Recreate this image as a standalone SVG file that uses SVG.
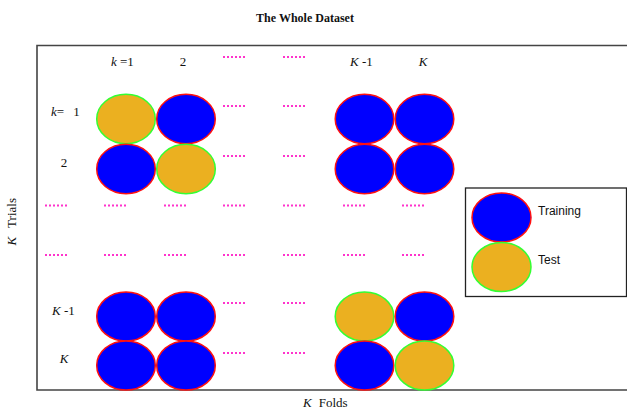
<svg xmlns="http://www.w3.org/2000/svg" width="627" height="410" viewBox="0 0 627 410">
<style>
.tr{fill:#0000ff;stroke:#ff1010;stroke-width:1.5}
.te{fill:#ebb020;stroke:#33ff33;stroke-width:1.5}
.dot{stroke:#ff33cc;stroke-width:2;stroke-dasharray:2,2;fill:none}
.lb{font-family:"Liberation Serif",serif;font-size:13px;fill:#111}
.it{font-style:italic}
.sans{font-family:"Liberation Sans",Arial,sans-serif;font-size:12px;fill:#111}
.frame{stroke:#444;stroke-width:1.6;fill:none}
</style>
<rect width="627" height="410" fill="#fff"/>
<text x="305" y="22" text-anchor="middle" style="font-family:'Liberation Serif',serif;font-size:12px;font-weight:bold" fill="#111">The Whole Dataset</text>
<path class="frame" d="M627 45.5H37V390H627"/>
<g id="col-labels">
<text class="lb" x="111" y="66"><tspan class="it">k</tspan> =1</text>
<text class="lb" x="183" y="66" text-anchor="middle">2</text>
<text class="lb" x="350" y="66"><tspan class="it">K</tspan> -1</text>
<text class="lb" x="423" y="66" text-anchor="middle" font-style="italic">K</text>
</g>
<g id="row-labels">
<text class="lb" x="51" y="116"><tspan class="it">k</tspan>=<tspan dx="9">1</tspan></text>
<text class="lb" x="64" y="167" text-anchor="middle">2</text>
<text class="lb" x="52" y="315"><tspan class="it">K</tspan> -1</text>
<text class="lb" x="64" y="363" text-anchor="middle" font-style="italic">K</text>
</g>
<text class="lb" transform="translate(16,198) rotate(-90)" text-anchor="end"><tspan class="it">K</tspan><tspan dx="9">Trials</tspan></text>
<text class="lb" x="303" y="407"><tspan class="it">K</tspan><tspan dx="7">Folds</tspan></text>
<g id="dots">
<path class="dot" d="M223 57h24M283 57h24M223 106h24M283 106h24M223 156h24M283 156h24M223 303h24M283 303h24M223 353h24M283 353h24"/>
<path class="dot" d="M45 205.5h24M104 205.5h24M164 205.5h24M223 205.5h24M283 205.5h24M343 205.5h24M402 205.5h24"/>
<path class="dot" d="M45 255h24M104 255h24M164 255h24M223 255h24M283 255h24M343 255h24M402 255h24"/>
</g>
<g id="row1">
<ellipse class="te" cx="126" cy="119" rx="29.3" ry="24.7"/>
<ellipse class="tr" cx="186" cy="119" rx="29.3" ry="24.7"/>
<ellipse class="tr" cx="364.5" cy="119" rx="29.3" ry="24.7"/>
<ellipse class="tr" cx="424.5" cy="119" rx="29.3" ry="24.7"/>
</g>
<g id="row2">
<ellipse class="tr" cx="126" cy="169" rx="29.3" ry="24.7"/>
<ellipse class="te" cx="186" cy="169" rx="29.3" ry="24.7"/>
<ellipse class="tr" cx="364.5" cy="169" rx="29.3" ry="24.7"/>
<ellipse class="tr" cx="424.5" cy="169" rx="29.3" ry="24.7"/>
</g>
<g id="rowKm1">
<ellipse class="tr" cx="126" cy="316.5" rx="29.3" ry="24.5"/>
<ellipse class="tr" cx="186" cy="316.5" rx="29.3" ry="24.5"/>
<ellipse class="te" cx="364.5" cy="316.5" rx="29.3" ry="24.5"/>
<ellipse class="tr" cx="424.5" cy="316.5" rx="29.3" ry="24.5"/>
</g>
<g id="rowK">
<ellipse class="tr" cx="126" cy="365.5" rx="29.3" ry="24.5"/>
<ellipse class="tr" cx="186" cy="365.5" rx="29.3" ry="24.5"/>
<ellipse class="tr" cx="364.5" cy="365.5" rx="29.3" ry="24.5"/>
<ellipse class="te" cx="424.5" cy="365.5" rx="29.3" ry="24.5"/>
</g>
<g id="legend">
<rect x="465.5" y="188" width="161" height="108.5" fill="#fff" stroke="#222" stroke-width="1.3"/>
<ellipse class="tr" cx="501.5" cy="217.5" rx="29.5" ry="24.5"/>
<ellipse class="te" cx="501.5" cy="267" rx="29.5" ry="24.5"/>
<text class="sans" x="538" y="215">Training</text>
<text class="sans" x="538" y="264">Test</text>
</g>
</svg>
